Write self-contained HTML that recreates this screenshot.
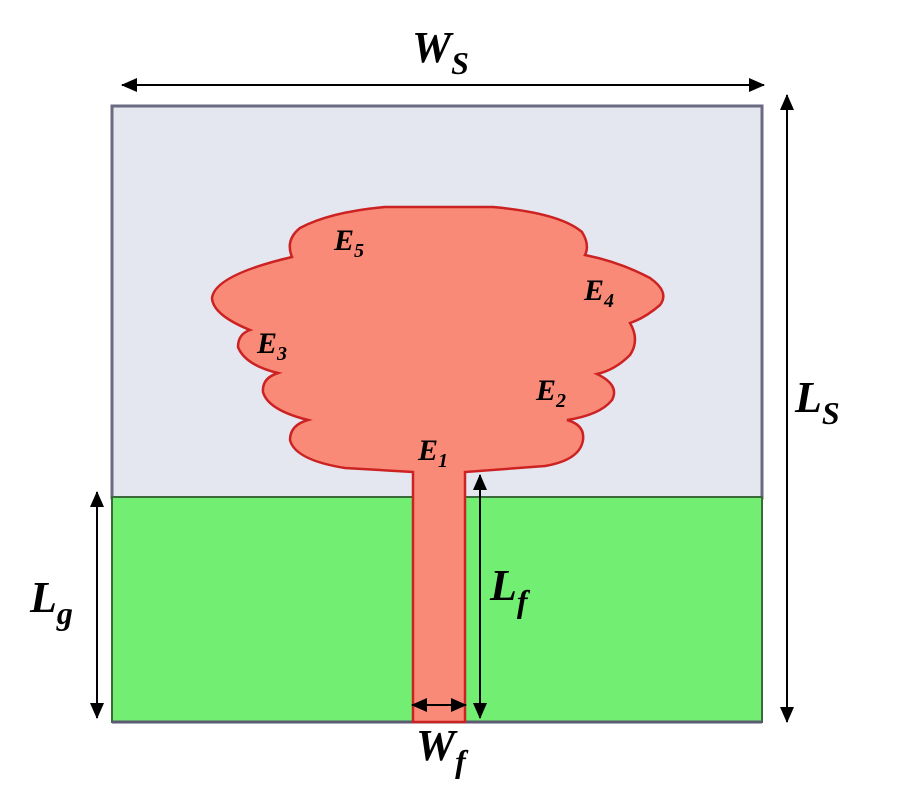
<!DOCTYPE html>
<html><head><style>html,body{margin:0;padding:0;background:#fff;width:900px;height:800px;overflow:hidden}
text{font-family:"Liberation Serif",serif;font-style:italic;font-weight:bold}</style></head>
<body>
<svg width="900" height="800" viewBox="0 0 900 800" xmlns="http://www.w3.org/2000/svg">
<defs>
<marker id="b" markerWidth="16" markerHeight="14" refX="15" refY="7" orient="auto-start-reverse" markerUnits="userSpaceOnUse" viewBox="0 0 16 14"><path d="M0,0 L16,7 L0,14 z" fill="#000"/></marker>
</defs>
<rect x="112" y="106" width="650" height="392" fill="#e4e6f0" stroke="#6a6a80" stroke-width="3"/>
<rect x="112" y="497" width="650" height="225" fill="#72ee72" stroke="#3a6a3a" stroke-width="2"/>
<line x1="112" y1="722" x2="762" y2="722" stroke="#5a5a70" stroke-width="3"/>
<path d="M413,472 L345,468 Q295,460 290,440 Q290,425 308,420 Q268,410 263,392 Q262,378 278,373 Q245,365 238,347 Q238,334 250,330 Q213,315 212,298 Q215,275 292,257 Q285,240 300,228 Q330,212 385,207 L493,207 Q560,213 582,232 Q590,245 585,255 Q620,262 650,278 Q670,292 660,305 Q645,318 630,323 Q640,340 630,355 Q615,370 597,374 Q620,385 612,400 Q600,415 567,420 Q585,425 583,440 Q580,460 545,466 L465,472 L465,722 L413,722 Z" fill="#fa8a78" stroke="#cc2222" stroke-width="2.5"/>
<line x1="122" y1="85" x2="764" y2="85" stroke="#000" stroke-width="2" marker-start="url(#b)" marker-end="url(#b)"/>
<line x1="787" y1="95" x2="787" y2="722" stroke="#000" stroke-width="2" marker-start="url(#b)" marker-end="url(#b)"/>
<line x1="97" y1="492" x2="97" y2="718" stroke="#000" stroke-width="2" marker-start="url(#b)" marker-end="url(#b)"/>
<line x1="480" y1="475" x2="480" y2="718" stroke="#000" stroke-width="2" marker-start="url(#b)" marker-end="url(#b)"/>
<line x1="412" y1="705" x2="466" y2="705" stroke="#000" stroke-width="2" marker-start="url(#b)" marker-end="url(#b)"/>
<text x="412" y="62" font-size="44">W<tspan font-size="32" dy="12">S</tspan></text>
<text x="795" y="412" font-size="44">L<tspan font-size="32" dy="12">S</tspan></text>
<text x="30" y="612" font-size="44">L<tspan font-size="32" dy="12">g</tspan></text>
<text x="490" y="600" font-size="44">L<tspan font-size="32" dy="12">f</tspan></text>
<text x="416" y="760" font-size="44">W<tspan font-size="32" dy="12">f</tspan></text>
<g>
<text x="334" y="250" font-size="30">E<tspan font-size="20" dy="7">5</tspan></text>
<text x="584" y="300" font-size="30">E<tspan font-size="20" dy="7">4</tspan></text>
<text x="257" y="353" font-size="30">E<tspan font-size="20" dy="7">3</tspan></text>
<text x="536" y="400" font-size="30">E<tspan font-size="20" dy="7">2</tspan></text>
<text x="418" y="460" font-size="30">E<tspan font-size="20" dy="7">1</tspan></text>
</g>
</svg>
</body></html>
